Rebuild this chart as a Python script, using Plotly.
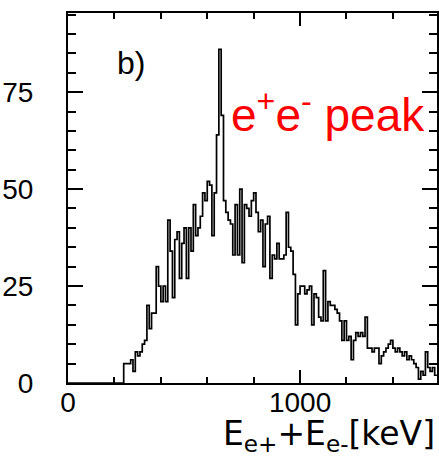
import numpy as np
import plotly.graph_objects as go

# Summed energy spectrum E(e+) + E(e-), 10 keV bins starting at 240 keV
bin_start_kev = 240
bin_width_kev = 10
counts = [
    5, 5, 5, 6, 3, 8, 7, 8, 10, 11,
    20, 14, 18, 18, 30, 25, 21, 25, 21, 42,
    34, 22, 37, 39, 27, 36, 40, 27, 40, 34,
    46, 38, 40, 43, 49, 47, 52, 51, 38, 49,
    64, 86, 69, 47, 44, 42, 41, 33, 46, 33,
    50, 31, 46, 45, 43, 47, 49, 44, 39, 42,
    30, 41, 43, 27, 33, 32, 36, 32, 32, 33,
    44, 35, 34, 28, 15, 23, 25, 25, 23, 24,
    25, 15, 23, 22, 17, 16, 29, 16, 21, 20,
    20, 19, 18, 16, 11, 16, 11, 12, 6, 11,
    13, 12, 13, 12, 17, 9, 9, 8, 9, 9,
    5, 7, 8, 9, 10, 11, 9, 8, 9, 8,
    7, 8, 6, 7, 6, 5, 4, 1, 3, 2,
    8, 4, 3, 4, 2,
]

y_ticks = [0, 25, 50, 75]
x_ticks = [0, 1000]
x_range = [0, 1590]
y_range = [0, 95.4]
panel_label = "b)"
peak_label = "e<sup>+</sup>e<sup>-</sup> peak"
x_title = "E<sub>e+</sub>+E<sub>e-</sub>[keV]"

edges = bin_start_kev + bin_width_kev * np.arange(len(counts) + 1)
step_x = np.concatenate([[0], edges])
step_y = np.concatenate([[0], counts, [counts[-1]]])

fig = go.Figure()
fig.add_trace(go.Scatter(
    x=step_x, y=step_y, mode="lines",
    line=dict(color="black", width=1.7, shape="hv"),
    showlegend=False, hoverinfo="skip",
))
# invisible companion trace so the top/right tick axes are drawn
fig.add_trace(go.Scatter(
    x=[x_range[0]], y=[y_range[0]], xaxis="x2", yaxis="y2", mode="markers",
    marker=dict(opacity=0), showlegend=False, hoverinfo="skip",
))

tick_font = dict(family="Liberation Sans, Arial", size=28, color="black")

x_common = dict(
    range=x_range, tickvals=x_ticks, ticktext=[str(v) for v in x_ticks],
    ticks="inside", ticklen=13, tickwidth=2, tickcolor="black",
    minor=dict(dtick=200, tick0=0, ticks="inside", ticklen=6, tickwidth=1.6, tickcolor="black"),
    showline=True, linecolor="black", linewidth=2,
    showgrid=False, zeroline=False,
)
y_common = dict(
    range=y_range, tickvals=y_ticks, ticktext=[str(v) for v in y_ticks],
    ticks="inside", ticklen=15, tickwidth=2, tickcolor="black",
    minor=dict(dtick=5, tick0=0, ticks="inside", ticklen=8, tickwidth=1.6, tickcolor="black"),
    showline=True, linecolor="black", linewidth=2,
    showgrid=False, zeroline=False,
)

fig.update_layout(
    xaxis=dict(**x_common, tickfont=tick_font, ticklabelstandoff=-7),
    yaxis=dict(**y_common, tickfont=tick_font, ticklabelstandoff=27),
    xaxis2=dict(**x_common, side="top", overlaying="x", anchor="y", showticklabels=False),
    yaxis2=dict(**y_common, side="right", overlaying="y", anchor="x", showticklabels=False),
)

fig.add_annotation(
    x=201, y=82.5, xref="x", yref="y", text=panel_label, showarrow=False,
    xanchor="left", yanchor="middle",
    font=dict(family="Liberation Sans, Arial", size=32, color="black"),
)
fig.add_annotation(
    x=694, y=70, xref="x", yref="y", text=peak_label, showarrow=False,
    xanchor="left", yanchor="middle",
    font=dict(family="Liberation Sans, Arial", size=46, color="#ff0000"),
)
fig.add_annotation(
    x=1.0, y=-0.143, xref="paper", yref="paper", text=x_title, showarrow=False,
    xanchor="right", yanchor="middle",
    font=dict(family="DejaVu Sans", size=33, color="black"),
)

fig.update_layout(
    width=439, height=460,
    margin=dict(l=66, r=2, t=13, b=77),
    paper_bgcolor="white", plot_bgcolor="white",
)

fig.write_html("out.html")
